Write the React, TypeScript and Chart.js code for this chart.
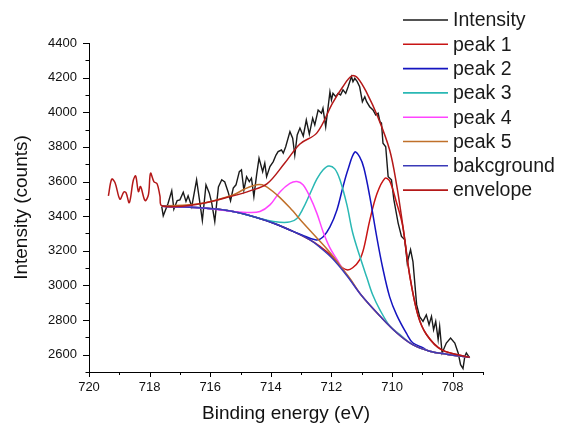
import React, { useEffect, useRef } from "react";
import { Chart, registerables } from "chart.js";

Chart.register(...registerables);

// ---------- data (binding energy eV, intensity counts) ----------
const intensityX = [717.60, 717.55, 717.39, 717.27, 717.20, 717.09, 717.00, 716.89, 716.80, 716.73, 716.61, 716.45, 716.34, 716.26, 716.14, 716.03, 715.95, 715.85, 715.73, 715.62, 715.52, 715.41, 715.33, 715.24, 715.15, 715.04, 714.97, 714.89, 714.80, 714.71, 714.64, 714.56, 714.47, 714.39, 714.27, 714.20, 714.14, 714.03, 713.92, 713.83, 713.76, 713.65, 713.59, 713.51, 713.37, 713.28, 713.21, 713.13, 713.04, 712.93, 712.83, 712.73, 712.62, 712.55, 712.44, 712.33, 712.28, 712.19, 712.05, 712.00, 711.95, 711.86, 711.78, 711.70, 711.62, 711.53, 711.45, 711.34, 711.29, 711.23, 711.15, 711.07, 710.98, 710.90, 710.84, 710.74, 710.63, 710.54, 710.46, 710.40, 710.35, 710.30, 710.21, 710.13, 710.02, 709.94, 709.80, 709.69, 709.58, 709.50, 709.39, 709.31, 709.19, 709.09, 708.98, 708.87, 708.78, 708.70, 708.63, 708.56, 708.48, 708.43, 708.35, 708.21, 708.07, 707.93, 707.82, 707.74, 707.66, 707.60, 707.55, 707.44];
const intensityY = [3455, 3402, 3475, 3547, 3441, 3490, 3494, 3538, 3485, 3517, 3455, 3610, 3475, 3375, 3581, 3533, 3475, 3369, 3569, 3610, 3597, 3540, 3489, 3562, 3581, 3657, 3667, 3551, 3628, 3600, 3619, 3513, 3638, 3735, 3657, 3706, 3628, 3686, 3715, 3753, 3773, 3782, 3764, 3801, 3888, 3850, 3753, 3869, 3909, 3863, 3955, 3874, 3966, 3927, 4013, 3994, 4023, 3916, 4118, 4071, 4109, 4090, 4109, 4100, 4129, 4109, 4147, 4206, 4177, 4196, 4177, 4147, 4061, 4090, 4061, 4032, 4013, 3984, 3994, 3946, 3937, 3821, 3801, 3628, 3610, 3494, 3360, 3283, 3263, 3131, 3206, 3136, 2889, 2819, 2792, 2830, 2773, 2821, 2744, 2792, 2687, 2763, 2610, 2667, 2696, 2667, 2610, 2542, 2520, 2590, 2610, 2581];

const peak1X = [717.59, 716.34, 715.25, 714.13, 713.27, 712.71, 712.38, 711.96, 711.72, 711.49, 711.30, 711.07, 710.93, 710.74, 710.50, 710.24, 710.08, 709.85, 709.65, 709.42, 709.15, 708.86, 708.36, 707.44];
const peak1Y = [3457, 3448, 3427, 3373, 3312, 3263, 3226, 3165, 3115, 3090, 3102, 3148, 3217, 3373, 3529, 3618, 3604, 3476, 3344, 3058, 2830, 2715, 2628, 2585];

const peak2X = [717.59, 716.34, 715.25, 714.13, 713.27, 712.94, 712.71, 712.48, 712.28, 712.05, 711.82, 711.63, 711.46, 711.23, 711.07, 710.93, 710.74, 710.50, 710.31, 710.08, 709.85, 709.52, 709.32, 708.99, 708.76, 708.20, 707.44];
const peak2Y = [3457, 3448, 3427, 3373, 3312, 3289, 3272, 3263, 3280, 3338, 3436, 3563, 3667, 3770, 3742, 3678, 3517, 3274, 3102, 2934, 2830, 2721, 2669, 2640, 2620, 2603, 2585];

const peak3X = [717.59, 716.34, 715.25, 714.13, 713.70, 713.37, 713.14, 712.94, 712.71, 712.48, 712.28, 712.09, 711.89, 711.72, 711.49, 711.30, 711.07, 710.83, 710.64, 710.41, 710.08, 709.75, 709.32, 708.76, 708.20, 707.44];
const peak3Y = [3457, 3448, 3427, 3376, 3365, 3367, 3387, 3443, 3529, 3615, 3667, 3690, 3673, 3610, 3465, 3304, 3171, 3044, 2946, 2862, 2767, 2718, 2658, 2620, 2603, 2585];

const peak4X = [717.59, 716.34, 715.25, 714.69, 714.36, 714.03, 713.70, 713.37, 713.14, 712.94, 712.71, 712.48, 712.28, 712.05, 711.82, 711.63, 711.39, 711.00, 710.41, 709.85, 709.32, 708.76, 708.20, 707.44];
const peak4Y = [3457, 3448, 3427, 3421, 3427, 3465, 3540, 3589, 3600, 3581, 3511, 3416, 3312, 3217, 3150, 3095, 3036, 2940, 2825, 2727, 2658, 2620, 2603, 2585];

const peak5X = [717.59, 716.34, 715.25, 714.86, 714.46, 714.20, 713.80, 713.37, 712.94, 712.48, 712.05, 711.72, 711.39, 711.00, 710.41, 709.85, 709.32, 708.76, 708.20, 707.44];
const peak5Y = [3459, 3471, 3522, 3557, 3581, 3575, 3523, 3448, 3362, 3274, 3190, 3115, 3040, 2940, 2825, 2727, 2658, 2620, 2603, 2585];

const backgroundX = [717.59, 716.34, 715.25, 714.13, 713.27, 712.71, 712.38, 711.96, 711.49, 711.00, 710.41, 709.85, 709.32, 708.76, 708.20, 707.44];
const backgroundY = [3457, 3448, 3427, 3373, 3312, 3263, 3220, 3154, 3056, 2940, 2825, 2727, 2658, 2620, 2603, 2585];

const envelopeX = [719.36, 719.25, 719.14, 718.98, 718.85, 718.78, 718.67, 718.54, 718.46, 718.37, 718.30, 718.15, 718.04, 717.97, 717.86, 717.75, 717.66, 717.59, 716.34, 715.25, 714.69, 714.13, 713.54, 713.04, 712.48, 711.96, 711.63, 711.33, 711.13, 710.83, 710.47, 710.08, 709.85, 709.65, 709.42, 709.15, 708.86, 708.36, 707.44];
const envelopeY = [3517, 3614, 3593, 3498, 3540, 3536, 3478, 3606, 3632, 3542, 3571, 3490, 3523, 3648, 3600, 3586, 3517, 3459, 3471, 3517, 3546, 3586, 3707, 3817, 3881, 4054, 4146, 4210, 4197, 4111, 3973, 3782, 3581, 3350, 3061, 2830, 2715, 2628, 2585];

const seriesLabels = ["Intensity", "peak 1", "peak 2", "peak 3", "peak 4", "peak 5", "bakcground", "envelope"];
const seriesColors = ["#1a1a1a", "#c81414", "#1414c0", "#2ab8b4", "#ff44ff", "#c0702a", "#3a3ab8", "#b41818"];

const xTickValues = [720, 718, 716, 714, 712, 710, 708];
const yTickValues = [2600, 2800, 3000, 3200, 3400, 3600, 3800, 4000, 4200, 4400];

const FONT = "'Liberation Sans', Arial, Helvetica, sans-serif";

const toPoints = (xs: number[], ys: number[]) => xs.map((x, i) => ({ x, y: ys[i] }));

const customPlugin = {
  id: "customDecor",
  afterDraw(chart: any) {
    const ctx = chart.ctx;
    const xs = chart.scales.x;
    const ys = chart.scales.y;
    const area = chart.chartArea;
    ctx.save();
    ctx.strokeStyle = "#000";
    ctx.lineWidth = 1;
    for (let v = 707; v <= 720; v++) {
      const px = Math.round(xs.getPixelForValue(v)) + 0.5;
      const len = v % 2 === 0 ? 5 : 3;
      ctx.beginPath();
      ctx.moveTo(px, area.bottom);
      ctx.lineTo(px, area.bottom + len);
      ctx.stroke();
    }
    for (let v = 2500; v <= 4400; v += 100) {
      const py = Math.round(ys.getPixelForValue(v)) + 0.5;
      const len = v % 200 === 0 ? 6 : 3.5;
      ctx.beginPath();
      ctx.moveTo(area.left, py);
      ctx.lineTo(area.left - len, py);
      ctx.stroke();
    }
    const ds = chart.data.datasets;
    ctx.font = `19.5px ${FONT}`;
    ctx.textBaseline = "middle";
    ctx.textAlign = "left";
    for (let i = 0; i < ds.length; i++) {
      const y = 20 + i * 24.3;
      ctx.strokeStyle = ds[i].borderColor;
      ctx.lineWidth = 1.6;
      ctx.beginPath();
      ctx.moveTo(403, y);
      ctx.lineTo(448, y);
      ctx.stroke();
      ctx.fillStyle = "#1a1a1a";
      ctx.fillText(ds[i].label, 453, y + 1);
    }
    ctx.restore();
  },
};

export default function App() {
  const canvasRef = useRef<HTMLCanvasElement | null>(null);

  useEffect(() => {
    const canvas = canvasRef.current;
    if (!canvas) return;
    const series = [
      [intensityX, intensityY],
      [peak1X, peak1Y],
      [peak2X, peak2Y],
      [peak3X, peak3Y],
      [peak4X, peak4Y],
      [peak5X, peak5Y],
      [backgroundX, backgroundY],
      [envelopeX, envelopeY],
    ];
    const datasets = series.map(([xs, ys], i) => ({
      label: seriesLabels[i],
      data: toPoints(xs as number[], ys as number[]),
      borderColor: seriesColors[i],
      backgroundColor: seriesColors[i],
      borderWidth: i === 0 ? 1.4 : 1.5,
      pointRadius: 0,
      fill: false,
      tension: i === 0 ? 0 : 0.35,
      order: 10 - i,
    }));

    const chart = new Chart(canvas, {
      type: "line",
      data: { datasets } as any,
      options: {
        responsive: false,
        animation: false,
        devicePixelRatio: 1,
        layout: { padding: { left: 0, top: 43, right: 78, bottom: 0 } },
        plugins: {
          legend: { display: false },
          tooltip: { enabled: false },
        },
        scales: {
          x: {
            type: "linear",
            reverse: true,
            min: 707,
            max: 720,
            afterBuildTicks: (s: any) => {
              s.ticks = xTickValues.map((v) => ({ value: v }));
            },
            afterFit: (s: any) => {
              s.height = 53;
            },
            grid: { display: false, drawTicks: false },
            border: { display: true, color: "#000", width: 1 },
            ticks: {
              padding: 8,
              color: "#111",
              font: { family: FONT, size: 13 },
              maxRotation: 0,
              autoSkip: false,
              callback: (v: any) => String(v),
            },
            title: {
              display: true,
              text: "Binding energy (eV)",
              color: "#111",
              font: { family: FONT, size: 19 },
              padding: { top: 0, bottom: 0 },
            },
          },
          y: {
            type: "linear",
            min: 2500,
            max: 4400,
            afterBuildTicks: (s: any) => {
              s.ticks = yTickValues.map((v) => ({ value: v }));
            },
            afterFit: (s: any) => {
              s.width = 89;
            },
            grid: { display: false, drawTicks: false },
            border: { display: true, color: "#000", width: 1 },
            ticks: {
              padding: 12,
              color: "#111",
              font: { family: FONT, size: 13 },
              autoSkip: false,
              callback: (v: any) => String(v),
            },
            title: {
              display: true,
              text: "Intensity (counts)",
              color: "#111",
              font: { family: FONT, size: 19 },
              padding: { top: 10, bottom: 0 },
            },
          },
        },
      } as any,
      plugins: [customPlugin],
    });
    return () => chart.destroy();
  }, []);

  return (
    <div style={{ position: "fixed", left: 0, top: 0, width: 561, height: 425, background: "#fff" }}>
      <canvas ref={canvasRef} width={561} height={425} style={{ display: "block" }} />
    </div>
  );
}
